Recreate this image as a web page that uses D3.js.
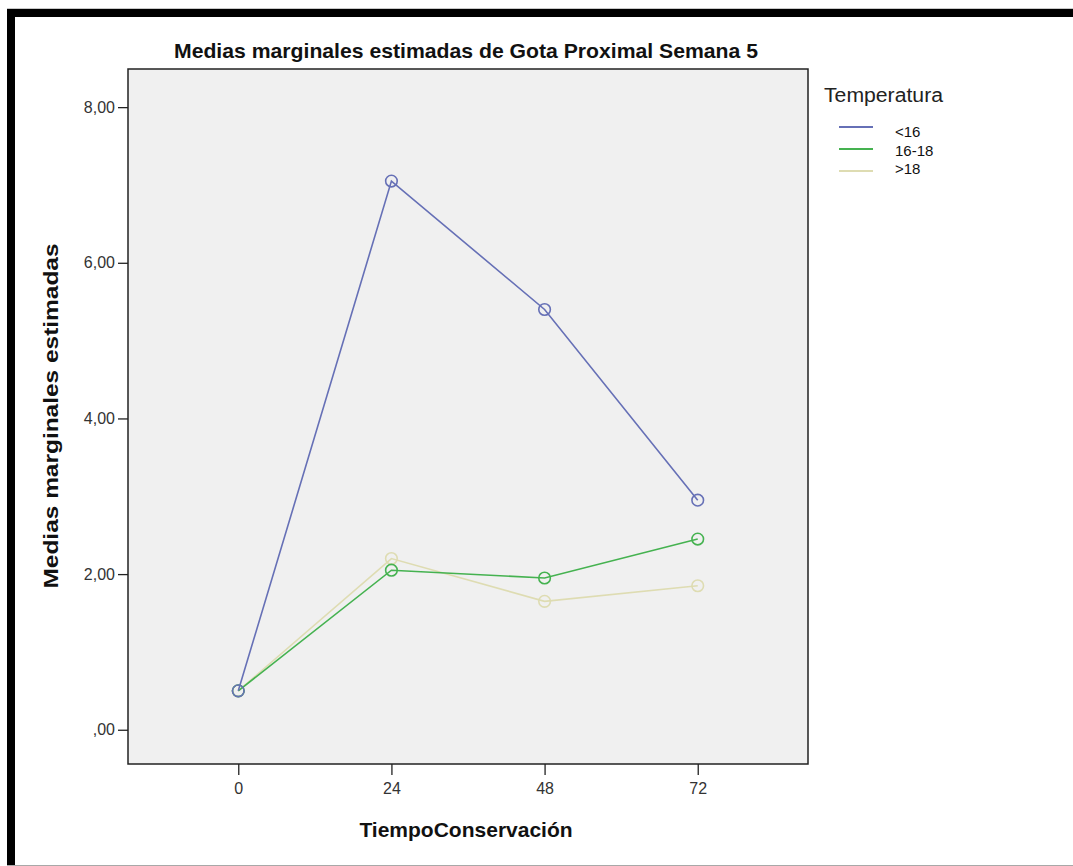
<!DOCTYPE html>
<html>
<head>
<meta charset="utf-8">
<script src="https://cdn.jsdelivr.net/npm/d3@7"></script>
<style>
  html, body { margin: 0; padding: 0; background: #fff; }
  svg { display: block; }
</style>
</head>
<body>
<script>
// Estimated marginal means, by storage time and temperature group
const tiempos = ["0", "24", "48", "72"];
const grupos = ["<16", "16-18", ">18"];
const medias_menor16 = [0.50, 7.05, 5.40, 2.95];
const medias_16a18 = [0.50, 2.05, 1.95, 2.45];
const medias_mayor18 = [0.50, 2.20, 1.65, 1.85];
const yTicks = [0, 2, 4, 6, 8];

const colores = ["#6670b6", "#45b250", "#dedcb2"];
const series = [medias_menor16, medias_16a18, medias_mayor18].map((v, i) => ({
  nombre: grupos[i], valores: v, color: colores[i]
}));

const W = 1073, H = 866;
const plot = { left: 128, right: 808, top: 69, bottom: 764 };
const FONT = "Liberation Sans, Arial, sans-serif";

const svg = d3.select("body").append("svg").attr("width", W).attr("height", H);

// Outer page frame
svg.append("rect").attr("x", 0).attr("y", 0).attr("width", W).attr("height", H).attr("fill", "#fff");
svg.append("line").attr("x1", 7).attr("x2", W).attr("y1", 8.5).attr("y2", 8.5).attr("stroke", "#c8c8c8");
svg.append("rect").attr("x", 7).attr("y", 9).attr("width", W - 7).attr("height", 8).attr("fill", "#000");
svg.append("rect").attr("x", 7).attr("y", 9).attr("width", 8).attr("height", H - 9).attr("fill", "#000");
svg.append("line").attr("x1", 7).attr("x2", W).attr("y1", 865.5).attr("y2", 865.5).attr("stroke", "#a8a8a8");

const x = d3.scalePoint().domain(tiempos).range([plot.left, plot.right]).padding(0.72);
const y = d3.scaleLinear()
  .domain([-0.44, 8.49])
  .range([plot.bottom, plot.top]);

// Plot panel
svg.append("rect")
  .attr("x", plot.left).attr("y", plot.top)
  .attr("width", plot.right - plot.left).attr("height", plot.bottom - plot.top)
  .attr("fill", "#f0f0f0").attr("stroke", "#222").attr("stroke-width", 1.5);

// Axes
const fmt = d => d === 0 ? ",00" : d3.format(".2f")(d).replace(".", ",");
const yAxis = svg.append("g").attr("transform", `translate(${plot.left},0)`)
  .call(d3.axisLeft(y).tickValues(yTicks).tickFormat(fmt).tickSize(10).tickPadding(3));
yAxis.select(".domain").remove();
yAxis.selectAll("line").attr("stroke", "#222").attr("stroke-width", 1.3);
yAxis.selectAll("text").attr("font-family", FONT)
  .attr("font-size", 16).attr("fill", "#333");

const xAxis = svg.append("g").attr("transform", `translate(0,${plot.bottom})`)
  .call(d3.axisBottom(x).tickSize(11).tickPadding(8));
xAxis.select(".domain").remove();
xAxis.selectAll("line").attr("stroke", "#222").attr("stroke-width", 1.3);
xAxis.selectAll("text").attr("font-family", FONT)
  .attr("font-size", 16).attr("fill", "#333");

// Title and axis labels
svg.append("text").attr("x", 466).attr("y", 58).attr("text-anchor", "middle")
  .attr("font-family", FONT).attr("font-size", 21)
  .attr("font-weight", "bold").attr("fill", "#111")
  .attr("textLength", 584).attr("lengthAdjust", "spacingAndGlyphs")
  .text("Medias marginales estimadas de Gota Proximal Semana 5");

svg.append("text").attr("transform", "translate(58,416) rotate(-90)").attr("text-anchor", "middle")
  .attr("font-family", FONT).attr("font-size", 21)
  .attr("font-weight", "bold").attr("fill", "#111")
  .attr("textLength", 345).attr("lengthAdjust", "spacingAndGlyphs")
  .text("Medias marginales estimadas");

svg.append("text").attr("x", 466).attr("y", 837).attr("text-anchor", "middle")
  .attr("font-family", FONT).attr("font-size", 21)
  .attr("font-weight", "bold").attr("fill", "#111")
  .text("TiempoConservación");

// Series lines and markers (drawn back to front)
const line = d3.line().x((d, i) => x(tiempos[i])).y(d => y(d));
const capas = svg.append("g");
series.slice().reverse().forEach(s => {
  const g = capas.append("g");
  g.append("path").datum(s.valores).attr("d", line)
    .attr("fill", "none").attr("stroke", s.color).attr("stroke-width", 1.6);
  g.selectAll("circle").data(s.valores).join("circle")
    .attr("cx", (d, i) => x(tiempos[i])).attr("cy", d => y(d)).attr("r", 5.8)
    .attr("fill", "none").attr("stroke", s.color).attr("stroke-width", 1.6);
});

// Legend
const leg = svg.append("g");
leg.append("text").attr("x", 824).attr("y", 102)
  .attr("font-family", FONT).attr("font-size", 20).attr("fill", "#222")
  .attr("textLength", 119).attr("lengthAdjust", "spacingAndGlyphs")
  .text("Temperatura");
series.forEach((s, i) => {
  const yl = 127 + i * 22;
  leg.append("line").attr("x1", 839).attr("x2", 873).attr("y1", yl).attr("y2", yl)
    .attr("stroke", s.color).attr("stroke-width", 2.2);
  leg.append("text").attr("x", 895).attr("y", 137 + i * 18.5)
    .attr("font-family", FONT).attr("font-size", 15).attr("fill", "#111")
    .text(s.nombre);
});
</script>
</body>
</html>
